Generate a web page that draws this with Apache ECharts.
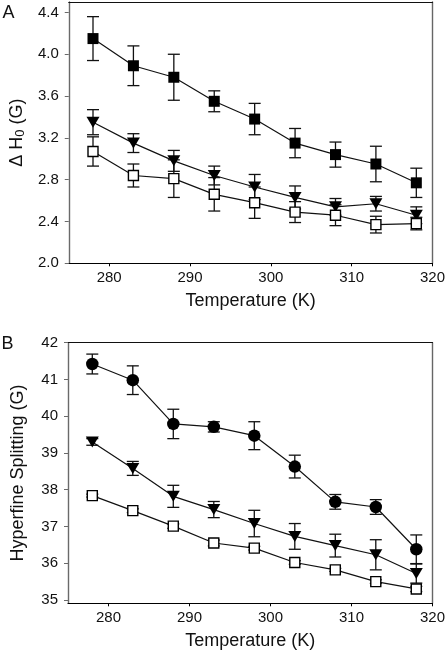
<!DOCTYPE html>
<html>
<head>
<meta charset="utf-8">
<style>
  html, body { margin: 0; padding: 0; background: #fff; }
  #chart { width: 448px; height: 656px; }
</style>
<script src="https://cdn.jsdelivr.net/npm/echarts@6/dist/echarts.min.js"></script>
</head>
<body>
<div id="chart"></div>
<script>
// ---- Data ----
const temperatures = [278, 283, 288, 293, 298, 303, 308, 313, 318];

// Panel A: ΔH0 (G)
const aFilledSquare    = [4.15, 3.89, 3.78, 3.55, 3.38, 3.15, 3.04, 2.95, 2.77];
const aFilledSquareErr = [0.21, 0.19, 0.22, 0.10, 0.15, 0.14, 0.12, 0.17, 0.14];
const aTriangle        = [3.35, 3.15, 2.98, 2.84, 2.73, 2.63, 2.54, 2.57, 2.46];
const aTriangleErr     = [0.12, 0.09, 0.10, 0.09, 0.12, 0.11, 0.08, 0.07, 0.08];
const aOpenSquare      = [3.07, 2.84, 2.81, 2.66, 2.58, 2.49, 2.46, 2.37, 2.38];
const aOpenSquareErr   = [0.14, 0.11, 0.18, 0.16, 0.15, 0.10, 0.10, 0.08, 0.06];

// Panel B: Hyperfine splitting (G)
const bCircle          = [41.42, 40.98, 39.79, 39.71, 39.47, 38.63, 37.67, 37.53, 36.38];
const bCircleErr       = [0.27, 0.39, 0.40, 0.14, 0.38, 0.31, 0.20, 0.20, 0.39];
const bTriangle        = [39.30, 38.58, 37.82, 37.46, 37.08, 36.73, 36.48, 36.23, 35.72];
const bTriangleErr     = [0.09, 0.19, 0.30, 0.22, 0.36, 0.35, 0.31, 0.41, 0.26];
const bOpenSquare      = [37.84, 37.43, 37.01, 36.55, 36.41, 36.02, 35.82, 35.50, 35.30];
const bOpenSquareErr   = [0.04, 0.05, 0.06, 0.08, 0.05, 0.05, 0.04, 0.05, 0.07];

// Axis texts
const xTitle = 'Temperature (K)';
const aYTitle = '{n|\u0394 H}{s|0}{n| (G)}';
const bYTitle = 'Hyperfine Splitting (G)';
const panelLetters = ['A', 'B'];

// ---- Chart ----
const FONT = 'Liberation Sans, Arial, Helvetica, sans-serif';
const chart = echarts.init(document.getElementById('chart'), null, { renderer: 'canvas' });

function pts(vals) { return temperatures.map((t, i) => [t, vals[i]]); }
function errPts(vals, errs) { return temperatures.map((t, i) => [t, vals[i], errs[i]]); }

function errorBarSeries(vals, errs, gi) {
  return {
    type: 'custom',
    xAxisIndex: gi * 2, yAxisIndex: gi * 2,
    data: errPts(vals, errs),
    z: 1,
    silent: true,
    renderItem: function (params, api) {
      const x = api.value(0), y = api.value(1), e = api.value(2);
      const top = api.coord([x, y + e]);
      const bot = api.coord([x, y - e]);
      const hw = 6;
      const st = { stroke: '#111', lineWidth: 1.3 };
      return {
        type: 'group',
        children: [
          { type: 'line', shape: { x1: top[0], y1: top[1], x2: bot[0], y2: bot[1] }, style: st },
          { type: 'line', shape: { x1: top[0] - hw, y1: top[1], x2: top[0] + hw, y2: top[1] }, style: st },
          { type: 'line', shape: { x1: bot[0] - hw, y1: bot[1], x2: bot[0] + hw, y2: bot[1] }, style: st }
        ]
      };
    }
  };
}

function lineSeries(vals, gi, kind) {
  const s = {
    type: 'line',
    xAxisIndex: gi * 2, yAxisIndex: gi * 2,
    data: pts(vals),
    z: 3,
    silent: true,
    showSymbol: true,
    lineStyle: { color: '#111', width: 1.2 },
    itemStyle: { color: '#000', borderColor: '#000', borderWidth: 0, opacity: 1 },
    emphasis: { disabled: true }
  };
  if (kind === 'filledSquare') { s.symbol = 'rect'; s.symbolSize = 11; }
  if (kind === 'openSquare') {
    s.symbol = 'rect'; s.symbolSize = 10;
    s.itemStyle = { color: '#fff', borderColor: '#000', borderWidth: 1.4, opacity: 1 };
  }
  if (kind === 'triangle') { s.symbol = 'triangle'; s.symbolSize = [13, 11]; s.symbolRotate = 180; }
  if (kind === 'circle') { s.symbol = 'circle'; s.symbolSize = 12.5; }
  return s;
}

const labelStyle = { fontSize: 15, color: '#111', fontFamily: FONT };

function bottomX(gi) {
  return {
    type: 'value', gridIndex: gi, position: 'bottom',
    min: 275, max: 320, splitNumber: 5,
    axisLine: { show: true, onZero: false, lineStyle: { color: '#000', width: 1.2 } },
    axisTick: { show: true, inside: false, length: 3, lineStyle: { color: '#000', width: 1 } },
    axisLabel: Object.assign({ margin: 7, showMinLabel: false }, labelStyle),
    splitLine: { show: false },
    name: xTitle, nameLocation: 'middle', nameGap: 29,
    nameTextStyle: { fontSize: 18, color: '#111', fontFamily: FONT }
  };
}
function topX(gi) {
  return {
    type: 'value', gridIndex: gi, position: 'top',
    min: 275, max: 320,
    axisLine: { show: true, onZero: false, lineStyle: { color: '#111', width: 1.2 } },
    axisTick: { show: false }, axisLabel: { show: false }, splitLine: { show: false }
  };
}
function rightY(gi, min, max) {
  return {
    type: 'value', gridIndex: gi, position: 'right', min: min, max: max,
    axisLine: { show: true, onZero: false, lineStyle: { color: '#666', width: 1.4 } },
    axisTick: { show: false }, axisLabel: { show: false }, splitLine: { show: false }
  };
}

const option = {
  animation: false,
  backgroundColor: '#fff',
  textStyle: { fontFamily: FONT },
  grid: [
    { left: 61, right: 15, top: 2, bottom: 392.7 },
    { left: 61, right: 15, top: 342.7, bottom: 52.7 }
  ],
  xAxis: [bottomX(0), topX(0), bottomX(1), topX(1)],
  yAxis: [
    {
      type: 'value', gridIndex: 0, position: 'left',
      min: 2.0, max: 4.5, interval: 0.4,
      axisLine: { show: true, onZero: false, lineStyle: { color: '#6a6a6a', width: 1.4 } },
      axisTick: { show: true, inside: false, length: 4, lineStyle: { color: '#6a6a6a', width: 1 } },
      axisLabel: Object.assign({ margin: 10, showMaxLabel: false, formatter: v => v.toFixed(1) }, labelStyle),
      splitLine: { show: false },
      name: aYTitle, nameLocation: 'middle', nameGap: 38,
      nameTextStyle: {
        color: '#111', fontFamily: FONT,
        rich: {
          n: { fontSize: 18, lineHeight: 20, color: '#111', fontFamily: FONT },
          s: { fontSize: 13, lineHeight: 13, verticalAlign: 'bottom', color: '#111', fontFamily: FONT }
        }
      }
    },
    rightY(0, 2.0, 4.5),
    {
      type: 'value', gridIndex: 1, position: 'left',
      min: 34.91, max: 42, splitNumber: 5,
      axisLine: { show: true, onZero: false, lineStyle: { color: '#6a6a6a', width: 1.4 } },
      axisTick: { show: true, inside: false, length: 4, lineStyle: { color: '#6a6a6a', width: 1 } },
      axisLabel: Object.assign({ margin: 10, showMinLabel: false }, labelStyle),
      splitLine: { show: false },
      name: bYTitle, nameLocation: 'middle', nameGap: 40,
      nameTextStyle: { fontSize: 18, lineHeight: 20, color: '#111', fontFamily: FONT }
    },
    rightY(1, 34.91, 42)
  ],
  series: [
    errorBarSeries(aFilledSquare, aFilledSquareErr, 0),
    errorBarSeries(aTriangle, aTriangleErr, 0),
    errorBarSeries(aOpenSquare, aOpenSquareErr, 0),
    lineSeries(aFilledSquare, 0, 'filledSquare'),
    lineSeries(aTriangle, 0, 'triangle'),
    lineSeries(aOpenSquare, 0, 'openSquare'),
    errorBarSeries(bCircle, bCircleErr, 1),
    errorBarSeries(bTriangle, bTriangleErr, 1),
    errorBarSeries(bOpenSquare, bOpenSquareErr, 1),
    lineSeries(bCircle, 1, 'circle'),
    lineSeries(bTriangle, 1, 'triangle'),
    lineSeries(bOpenSquare, 1, 'openSquare')
  ],
  graphic: [
    { type: 'text', x: 2.5, y: 13, style: { text: panelLetters[0], fontSize: 18, fontFamily: FONT, fill: '#111', textAlign: 'left', textVerticalAlign: 'middle' } },
    { type: 'text', x: 1.5, y: 344, style: { text: panelLetters[1], fontSize: 18, fontFamily: FONT, fill: '#111', textAlign: 'left', textVerticalAlign: 'middle' } }
  ]
};
chart.setOption(option);
</script>
</body>
</html>
